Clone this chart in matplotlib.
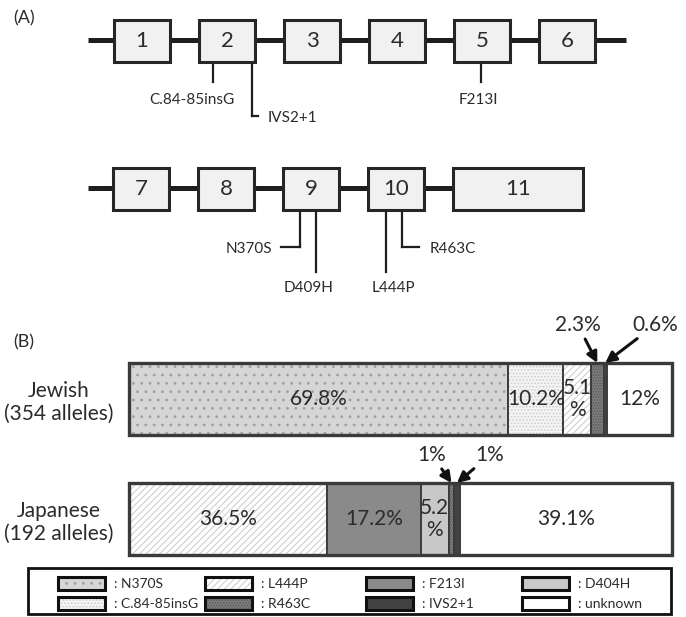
import matplotlib
matplotlib.use('Agg')
import matplotlib.pyplot as plt
from matplotlib.patches import Rectangle
import numpy as np

plt.rcParams['font.family'] = ['Lato', 'DejaVu Sans']
plt.rcParams['hatch.linewidth'] = 0.8

# ---------------- data ----------------
exons_row1 = ['1', '2', '3', '4', '5', '6']
exons_row2 = ['7', '8', '9', '10', '11']

groups = ['Jewish\n(354 alleles)', 'Japanese\n(192 alleles)']
jewish_muts = ['N370S', 'C.84-85insG', 'L444P', 'R463C', 'IVS2+1', 'unknown']
jewish_vals = [69.8, 10.2, 5.1, 2.3, 0.6, 12.0]
japanese_muts = ['L444P', 'F213I', 'D409H', 'R463C', 'IVS2+1', 'unknown']
japanese_vals = [36.5, 17.2, 5.2, 1.0, 1.0, 39.1]

legend_keys = ['N370S', 'C.84-85insG', 'L444P', 'R463C', 'F213I', 'IVS2+1', 'D409H', 'unknown']
legend_labels = ['N370S', 'C.84-85insG', 'L444P', 'R463C', 'F213I', 'IVS2+1', 'D404H', 'unknown']

# ---------------- styles ----------------
styles = {
    'N370S':       dict(fc='#d6d6d6', hatch='..',     hc='#a0a0a0'),
    'C.84-85insG': dict(fc='#f4f4f4', hatch='.....',  hc='#cdcdcd'),
    'L444P':       dict(fc='#ffffff', hatch='/////',  hc='#d0d0d0'),
    'R463C':       dict(fc='#7c7c7c', hatch='......', hc='#5a5a5a'),
    'F213I':       dict(fc='#8a8a8a', hatch=None,     hc='#8a8a8a'),
    'IVS2+1':      dict(fc='#424242', hatch=None,     hc='#424242'),
    'D409H':       dict(fc='#c8c8c8', hatch=None,     hc='#c8c8c8'),
    'unknown':     dict(fc='#ffffff', hatch=None,     hc='#ffffff'),
}
TXT = '#2b2b2b'

W, H = 686, 617
fig = plt.figure(figsize=(W / 100, H / 100), dpi=100)

# overlay axes in pixel coordinates (for the schematic, labels, legend)
ov = fig.add_axes([0, 0, 1, 1])
ov.set_xlim(0, W)
ov.set_ylim(H, 0)
ov.axis('off')

# ---------------- (A) gene schematic ----------------
ov.text(13, 18, '(A)', fontsize=13, color=TXT, ha='left', va='center')
ov.text(13, 342, '(B)', fontsize=13, color=TXT, ha='left', va='center')

def draw_row(labels, x0, y_line, y_top, line_end, widths):
    ov.plot([88, line_end], [y_line, y_line], color='#1e1e1e', lw=3.6,
            solid_capstyle='butt', zorder=1)
    for i, lab in enumerate(labels):
        x = x0 + i * 85
        w = widths[i]
        ov.add_patch(Rectangle((x, y_top), w, 42, facecolor='#f1f1f1',
                               edgecolor='#262626', lw=2.2, zorder=2))
        ov.text(x + w / 2, y_top + 21, lab, fontsize=16, color=TXT,
                ha='center', va='center', zorder=3)

draw_row(exons_row1, 114, 40, 20, 626, [56] * 6)
draw_row(exons_row2, 113, 188, 168, 454, [56] * 4 + [130])

# mutation markers: (label, x, y_start, y_end, hook_x, text_x, text_y, ha)
markers = [
    ('C.84-85insG', 213, 62, 82, None, 192, 100, 'center'),
    ('IVS2+1',      252, 62, 116, 258, 268, 118, 'left'),
    ('F213I',       481, 62, 82, None, 478, 100, 'center'),
    ('N370S',       300, 211, 247, 281, 272, 249, 'right'),
    ('D409H',       316, 211, 272, None, 309, 288, 'center'),
    ('L444P',       386, 211, 272, None, 393, 288, 'center'),
    ('R463C',       402, 211, 247, 419, 430, 249, 'left'),
]
for lab, x, y0, y1, hx, tx, ty, ha in markers:
    ov.plot([x, x], [y0, y1], color='#1e1e1e', lw=1.6, zorder=1)
    if hx is not None:
        ov.plot([x, hx], [y1, y1], color='#1e1e1e', lw=1.6, zorder=1)
    ov.text(tx, ty, lab, fontsize=11, color=TXT, ha=ha, va='center')

# ---------------- (B) stacked bars ----------------
bl, bw = 129, 543
bt, bb = 363, 555
axb = fig.add_axes([bl / W, 1 - bb / H, bw / W, (bb - bt) / H])
axb.set_xlim(0, 100)
axb.set_ylim(1.3, -0.3)
for s in axb.spines.values():
    s.set_visible(False)
axb.set_xticks([])
axb.set_yticks([0, 1])
axb.set_yticklabels(groups, fontsize=15, color=TXT, multialignment='center')
axb.tick_params(axis='y', length=0, pad=11)
axb.patch.set_alpha(0)

BH = 0.6
arrow_text_pos = {0: [(578, 325), (655, 325)], 1: [(432, 455), (490, 455)]}

for gi, (muts, vals) in enumerate([(jewish_muts, jewish_vals),
                                    (japanese_muts, japanese_vals)]):
    lefts = np.concatenate([[0], np.cumsum(vals)[:-1]])
    small = 0
    for m, v, l in zip(muts, vals, lefts):
        st = styles[m]
        axb.barh(gi, v, left=l, height=BH, color=st['fc'], hatch=st['hatch'],
                 edgecolor=st['hc'], linewidth=0, clip_on=False)
        axb.barh(gi, v, left=l, height=BH, fill=False, edgecolor='#3c3c3c',
                 linewidth=1.4, clip_on=False)
        if v >= 8:
            axb.text(l + v / 2, gi, f'{v:g}%', ha='center', va='center',
                     fontsize=15, color=TXT)
        elif v >= 4:
            axb.text(l + v / 2, gi, f'{v:g}\n%', ha='center', va='center',
                     fontsize=15, color=TXT, linespacing=1.15)
        else:
            tx, ty = arrow_text_pos[gi][small]
            small += 1
            axb.annotate(f'{v:g}%', xy=(l + v / 2, gi - BH / 2),
                         xycoords='data', xytext=(tx, ty),
                         textcoords=ov.transData, ha='center', va='center',
                         fontsize=15, color=TXT, annotation_clip=False,
                         arrowprops=dict(arrowstyle='-|>', color='#111111',
                                         lw=2.2, mutation_scale=16,
                                         shrinkA=1, shrinkB=0))
    axb.barh(gi, sum(vals), left=0, height=BH, fill=False,
             edgecolor='#3a3a3a', linewidth=2.4, clip_on=False)

# ---------------- legend ----------------
ov.add_patch(Rectangle((28, 568), 643, 46, fill=False, edgecolor='#111111',
                       lw=2.0, zorder=5))
col_x = [58, 205, 366, 522]
row_y = [577, 597]
for k, (key, lab) in enumerate(zip(legend_keys, legend_labels)):
    c, r = divmod(k, 2)
    x, y = col_x[c], row_y[r]
    st = styles[key]
    ov.add_patch(Rectangle((x, y), 47, 13, facecolor=st['fc'], hatch=st['hatch'],
                           edgecolor=st['hc'], lw=0, zorder=5))
    ov.add_patch(Rectangle((x, y), 47, 13, fill=False, edgecolor='#111111',
                           lw=2.2, zorder=6))
    ov.text(x + 56, y + 7, ': ' + lab, fontsize=10, color=TXT, ha='left',
            va='center', zorder=6)

fig.savefig('out.png', dpi=100)
